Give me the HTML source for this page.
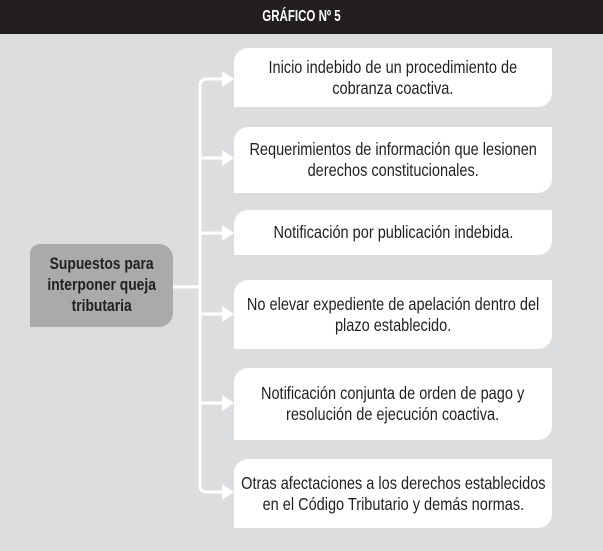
<!DOCTYPE html>
<html><head><meta charset="utf-8"><style>
body{margin:0;width:603px;height:551px;background:#dcddde;position:relative;overflow:hidden;font-family:"Liberation Sans",sans-serif}
.hd{position:absolute;left:0;top:0;width:603px;height:34px;background:#231f20;color:#fff;font-weight:bold;font-size:16px;text-align:center;line-height:34px}
.hd span{display:inline-block;transform:scaleX(.72)}
.b{position:absolute;left:234px;width:318px;background:#fff;border-radius:14px 0 14px 0;display:flex;align-items:center;justify-content:center;text-align:center;font-size:17.5px;line-height:21px;color:#231f20}
.b span{display:inline-block;transform:scaleX(.83);white-space:nowrap}
.l{position:absolute;left:30px;top:244px;width:143px;height:83px;background:#a9aaac;border-radius:10px 14px 14px 0;display:flex;align-items:center;justify-content:center;text-align:center;font-weight:bold;font-size:16.5px;line-height:21px;color:#231f20}
.l span{display:inline-block;transform:scaleX(.84);white-space:nowrap}
svg{position:absolute;left:0;top:0}
</style></head><body>
<div class="hd"><span>GRÁFICO Nº 5</span></div>
<svg width="603" height="551">
<g stroke="#fff" stroke-width="3" fill="none">
<path d="M224 79 H207 Q200 79 200 86 V485 Q200 492 207 492 H224"/>
<path d="M200 158H224M200 233H224M200 314H224M200 403H224M173 287H200"/>
</g>
<g fill="#fff">
<path d="M222 71L234 79L222 87Z"/><path d="M222 150L234 158L222 166Z"/><path d="M222 225L234 233L222 241Z"/>
<path d="M222 306L234 314L222 322Z"/><path d="M222 395L234 403L222 411Z"/><path d="M222 484L234 492L222 500Z"/>
</g></svg>
<div class="l"><span>Supuestos para<br>interponer queja<br>tributaria</span></div>
<div class="b" style="top:48px;height:59px"><span>Inicio indebido de un procedimiento de<br>cobranza coactiva.</span></div>
<div class="b" style="top:127px;height:66px"><span>Requerimientos de información que lesionen<br>derechos constitucionales.</span></div>
<div class="b" style="top:210px;height:45px"><span>Notificación por publicación indebida.</span></div>
<div class="b" style="top:280px;height:69px"><span>No elevar expediente de apelación dentro del<br>plazo establecido.</span></div>
<div class="b" style="top:368px;height:72px"><span>Notificación conjunta de orden de pago y<br>resolución de ejecución coactiva.</span></div>
<div class="b" style="top:459px;height:69px"><span>Otras afectaciones a los derechos establecidos<br>en el Código Tributario y demás normas.</span></div>
</body></html>
